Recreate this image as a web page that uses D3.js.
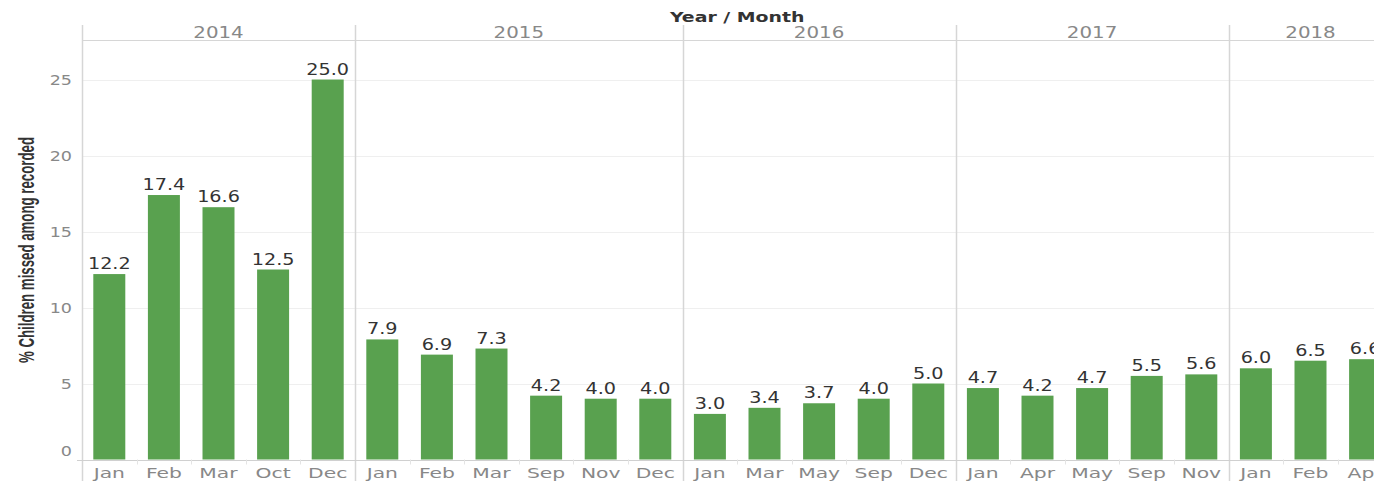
<!DOCTYPE html>
<html><head><meta charset="utf-8">
<script src="https://cdn.jsdelivr.net/npm/d3@7/dist/d3.min.js"></script>
<style>html,body{margin:0;padding:0;background:#fff;overflow:hidden}</style>
</head><body><svg id="c" width="1374" height="481"></svg>
<script>
const years = ["2014","2015","2016","2017","2018"];
const months = [
  ["Jan","Feb","Mar","Oct","Dec"],
  ["Jan","Feb","Mar","Sep","Nov","Dec"],
  ["Jan","Mar","May","Sep","Dec"],
  ["Jan","Apr","May","Sep","Nov"],
  ["Jan","Feb","Apr"]
];
const values = [
  [12.2,17.4,16.6,12.5,25.0],
  [7.9,6.9,7.3,4.2,4.0,4.0],
  [3.0,3.4,3.7,4.0,5.0],
  [4.7,4.2,4.7,5.5,5.6],
  [6.0,6.5,6.6]
];
const yTicks = [0,5,10,15,20,25];
const yTitle = "% Children missed among recorded";
const xTitle = "Year / Month";

const rows = [];
years.forEach((yr,i)=>months[i].forEach((m,j)=>rows.push({year:yr,month:m,key:yr+"-"+m,value:values[i][j]})));

const W=1374,H=481;
const svg=d3.select("#c");
const x=d3.scaleBand().domain(rows.map(d=>d.key)).range([82,82+rows.length*54.6]).paddingInner(0.414).paddingOuter(0.207);
const y=d3.scaleLinear().domain([0,27.6]).range([459.5,40]);
const step=x.step(), half=(step-x.bandwidth())/2;
const left=k=>x(k)-half;
const FONT="'DejaVu Sans', Verdana, sans-serif";

// gridlines
svg.append("g").selectAll("line").data(yTicks.filter(v=>v>0)).join("line")
  .attr("x1",82).attr("x2",W).attr("y1",d=>Math.round(y(d))+0.5).attr("y2",d=>Math.round(y(d))+0.5)
  .attr("stroke","#efefef").attr("stroke-width",1);

// header horizontal line
svg.append("line").attr("x1",82).attr("x2",W).attr("y1",40.5).attr("y2",40.5).attr("stroke","#d6d6d6");

// year dividers
const yearStarts = years.map(yr=>rows.find(r=>r.year===yr).key);
const yearEnds = years.map(yr=>rows.filter(r=>r.year===yr).slice(-1)[0].key);
svg.append("g").selectAll("line").data(yearStarts).join("line")
  .attr("x1",d=>Math.round(left(d))+0.5).attr("x2",d=>Math.round(left(d))+0.5)
  .attr("y1",25).attr("y2",H).attr("stroke","#d6d6d6").attr("stroke-width",1.5);

// baseline
svg.append("line").attr("x1",77).attr("x2",W).attr("y1",Math.round(y(0))+0.5).attr("y2",Math.round(y(0))+0.5).attr("stroke","#d0d0d0");
// small ticks
svg.append("g").selectAll("line").data(rows.filter(r=>!yearStarts.includes(r.key))).join("line")
  .attr("x1",d=>Math.round(left(d.key))+0.5).attr("x2",d=>Math.round(left(d.key))+0.5)
  .attr("y1",y(0)).attr("y2",y(0)+5).attr("stroke","#e4e4e4");

// bars
svg.append("g").selectAll("rect").data(rows).join("rect")
  .attr("x",d=>x(d.key)).attr("width",x.bandwidth())
  .attr("y",d=>y(d.value)).attr("height",d=>y(0)-y(d.value))
  .attr("fill","#59a14f");

function stext(g,tx,ty,sx,str){
  return g.append("text").attr("transform",`translate(${tx},${ty}) scale(${sx},1)`).text(str);
}
// bar labels
const bl=svg.append("g").attr("font-family",FONT).attr("font-size",15.5).attr("fill","#333").attr("text-anchor","middle");
rows.forEach(d=>stext(bl,x(d.key)+x.bandwidth()/2,y(d.value)-5,1.24,d.value.toFixed(1)));

// month labels
const ml=svg.append("g").attr("font-family",FONT).attr("font-size",14).attr("fill","#888").attr("text-anchor","middle");
rows.forEach(d=>stext(ml,x(d.key)+x.bandwidth()/2,478,1.45,d.month));

// year labels
const yl=svg.append("g").attr("font-family",FONT).attr("font-size",16).attr("fill","#888").attr("text-anchor","middle");
years.forEach((yr,i)=>{
  const a=left(yearStarts[i]), b=left(yearEnds[i])+step;
  stext(yl,(a+b)/2,38,1.24,yr);
});

// y tick labels
const tl=svg.append("g").attr("font-family",FONT).attr("font-size",13.5).attr("fill","#888").attr("text-anchor","end");
yTicks.forEach(v=>stext(tl,72,y(v)+(v===0?-4:5),1.3,String(v)));

// x title
const xt=svg.append("g").attr("font-family",FONT).attr("font-size",14).attr("font-weight","bold").attr("fill","#333").attr("text-anchor","middle");
stext(xt,(82+82+rows.length*54.6)/2,22,1.35,xTitle);

// y title
svg.append("text").attr("transform","translate(34,250) scale(1.35,1) rotate(-90)")
  .attr("font-family","'Liberation Sans Narrow','Arial Narrow','Liberation Sans',sans-serif")
  .attr("font-size",16).attr("font-weight","bold").attr("fill","#333").attr("text-anchor","middle")
  .attr("textLength",226).attr("lengthAdjust","spacingAndGlyphs").text(yTitle);
</script></body></html>
